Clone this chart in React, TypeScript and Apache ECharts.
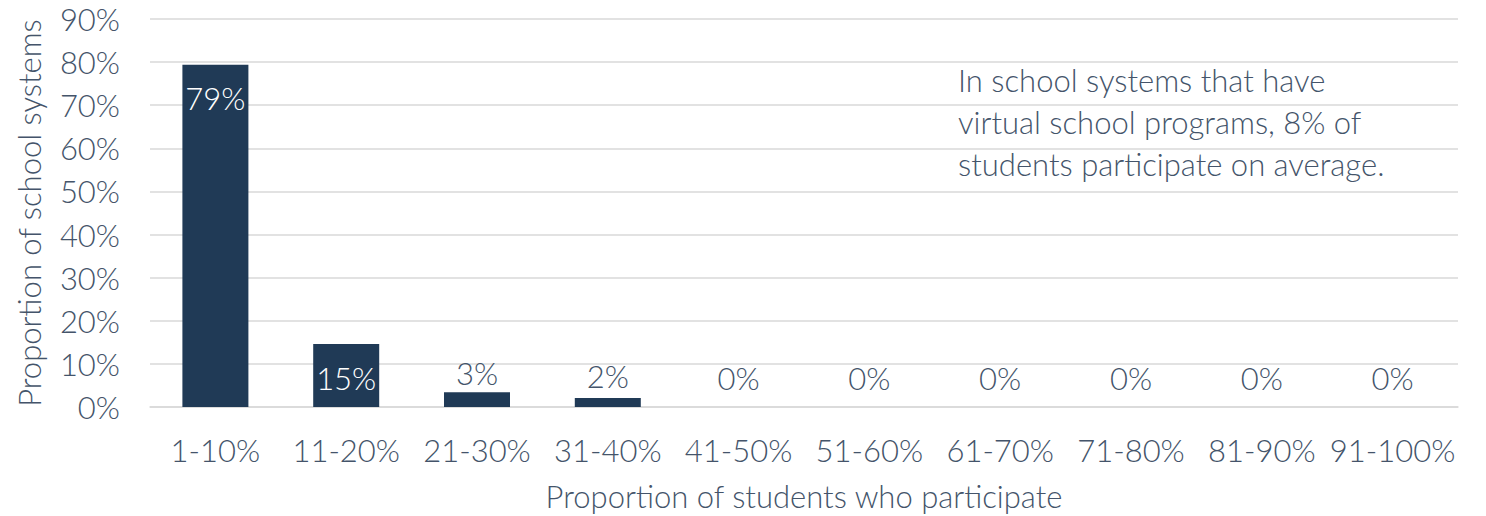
import React, { useEffect, useRef } from "react";
import * as echarts from "echarts";

const categories = ["1-10%", "11-20%", "21-30%", "31-40%", "41-50%", "51-60%", "61-70%", "71-80%", "81-90%", "91-100%"];
const values = [79.4, 14.6, 3.4, 2.1, 0, 0, 0, 0, 0, 0];
const yTicks = [0, 10, 20, 30, 40, 50, 60, 70, 80, 90];
const annotation = ["In school systems that have", "virtual school programs, 8% of", "students participate on average."];
const xTitle = "Proportion of students who participate";
const yTitle = "Proportion of school systems";

const FONT = "Lato";
const TEXT = "#44546A";
const BAR = "#203A56";
const FS = 31;

export default function App() {
  const ref = useRef<HTMLDivElement>(null);
  useEffect(() => {
    const chart = echarts.init(ref.current!, null, { renderer: "svg" });
    const labelFor = (v: number, i: number) => {
      if (i < 2) {
        return { show: true, position: "insideTop", distance: 18, color: "#FFFFFF" };
      }
      const dist = v > 3 ? 4 : v > 1 ? 6 : 14;
      return { show: true, position: "top", distance: dist, color: TEXT };
    };
    chart.setOption({
      animation: false,
      textStyle: { fontFamily: FONT, fontWeight: 300 },
      grid: { left: 150, right: 28, top: 19, bottom: 108, containLabel: false },
      xAxis: {
        type: "category",
        data: categories,
        axisLine: { show: true, lineStyle: { color: "#D9D9D9", width: 1.5 } },
        axisTick: { show: false },
        axisLabel: { color: TEXT, fontSize: FS, fontFamily: FONT, fontWeight: 300, margin: 27, interval: 0 },
        name: xTitle,
        nameLocation: "middle",
        nameGap: 73,
        nameTextStyle: { color: TEXT, fontSize: FS, fontFamily: FONT, fontWeight: 300 },
      },
      yAxis: {
        type: "value",
        min: yTicks[0],
        max: yTicks[yTicks.length - 1],
        interval: 10,
        axisLine: { show: false },
        axisTick: { show: false },
        splitLine: { show: true, lineStyle: { color: "#D9D9D9", width: 1.5 } },
        axisLabel: { color: TEXT, fontSize: FS, fontFamily: FONT, fontWeight: 300, margin: 30, formatter: "{value}%" },
        name: yTitle,
        nameLocation: "middle",
        nameGap: 106,
        nameRotate: 90,
        nameTextStyle: { color: TEXT, fontSize: FS, fontFamily: FONT, fontWeight: 300 },
      },
      series: [
        {
          type: "bar",
          barWidth: 66,
          itemStyle: { color: BAR },
          data: values.map((v, i) => ({
            value: v,
            label: {
              ...labelFor(v, i),
              fontSize: FS,
              fontFamily: FONT,
              fontWeight: 300,
              formatter: (p: any) => Math.round(p.value) + "%",
            },
          })),
        },
      ],
      graphic: [
        {
          type: "text",
          left: 958,
          top: 59,
          style: {
            text: annotation.join("\n"),
            fontSize: FS,
            fontFamily: FONT,
            fontWeight: 300,
            fill: TEXT,
            lineHeight: 42,
          },
        },
      ],
    });
    return () => chart.dispose();
  }, []);
  return <div ref={ref} style={{ width: 1486, height: 516, position: "absolute", left: 0, top: 0 }} />;
}
